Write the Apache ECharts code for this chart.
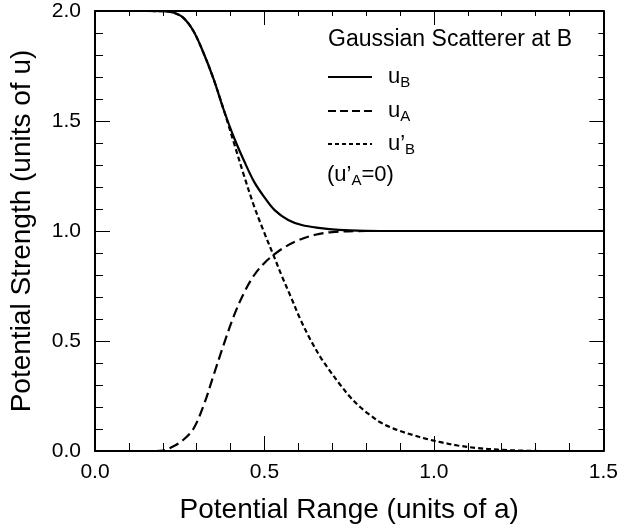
<!DOCTYPE html>
<html>
<head>
<meta charset="utf-8">
<script src="https://cdn.jsdelivr.net/npm/echarts@6/dist/echarts.min.js"></script>
<style>
  html, body { margin: 0; padding: 0; background: #fff; }
  #chart { width: 621px; height: 531px; }
</style>
</head>
<body>
<div id="chart"></div>
<script>
// Potential strength of a Gaussian scatterer at site B
const uBx = [0, 0.15, 0.20, 0.23, 0.26, 0.29, 0.32, 0.35, 0.38, 0.41, 0.44, 0.47, 0.50, 0.53, 0.57, 0.61, 0.66, 0.72, 0.80, 0.90, 1.5];
const uBy = [2.0, 2.0, 1.999, 1.993, 1.97, 1.91, 1.81, 1.69, 1.55, 1.425, 1.318, 1.222, 1.153, 1.095, 1.05, 1.027, 1.014, 1.005, 1.001, 1.0, 1.0];

const uAx = [0, 0.18, 0.20, 0.23, 0.26, 0.29, 0.32, 0.35, 0.38, 0.41, 0.44, 0.47, 0.50, 0.53, 0.56, 0.60, 0.65, 0.70, 0.80, 1.5];
const uAy = [0, 0, 0.002, 0.02, 0.05, 0.10, 0.205, 0.345, 0.485, 0.615, 0.72, 0.80, 0.855, 0.895, 0.927, 0.958, 0.983, 0.995, 1.0, 1.0];

const uBpx = [0, 0.15, 0.20, 0.23, 0.26, 0.29, 0.32, 0.35, 0.38, 0.41, 0.44, 0.47, 0.50, 0.53, 0.55, 0.578, 0.607, 0.636, 0.665, 0.695, 0.724, 0.753, 0.782, 0.811, 0.84, 0.87, 0.90, 0.937, 0.978, 1.02, 1.07, 1.13, 1.19, 1.25, 1.32, 1.5];
const uBpy = [2.0, 2.0, 1.999, 1.993, 1.97, 1.91, 1.81, 1.69, 1.55, 1.40, 1.25, 1.11, 0.99, 0.877, 0.80, 0.70, 0.595, 0.505, 0.427, 0.36, 0.30, 0.245, 0.20, 0.164, 0.132, 0.109, 0.091, 0.073, 0.055, 0.040, 0.025, 0.013, 0.006, 0.002, 0.0, 0.0];

const xTicks = [0.0, 0.5, 1.0, 1.5];
const yTicks = [0.0, 0.5, 1.0, 1.5, 2.0];

const legendTitle = 'Gaussian Scatterer at B';
const legendNote = '{m|(u’}{s|A}{m|=0)}';

const pairs = (xs, ys) => xs.map((x, i) => [x, ys[i]]);

const FONT = 'Liberation Sans, Arial, Helvetica, sans-serif';
const rich = {
  m: { fontFamily: FONT, fontSize: 22, color: '#000', lineHeight: 28 },
  s: { fontFamily: FONT, fontSize: 15, color: '#000', lineHeight: 28, padding: [11, 0, 0, 0] }
};

// key entries: label, dash pattern of the sample line, row centre
const keyRows = [
  { label: '{m|u}{s|B}', dash: null, y: 77 },
  { label: '{m|u}{s|A}', dash: [8, 4], y: 111 },
  { label: '{m|u’}{s|B}', dash: [4, 3], y: 144 }
];

const keyGraphics = [];
keyRows.forEach(r => {
  keyGraphics.push({
    type: 'line', silent: true, z: 10,
    shape: { x1: 328, y1: r.y, x2: 372, y2: r.y },
    style: { stroke: '#000', lineWidth: 2, lineDash: r.dash || null }
  });
  keyGraphics.push({
    type: 'text', silent: true, z: 10, x: 388, y: r.y,
    style: { text: r.label, rich: rich, verticalAlign: 'middle', align: 'left' }
  });
});
keyGraphics.push({
  type: 'text', silent: true, z: 10, x: 328, y: 40,
  style: { text: legendTitle, fontFamily: FONT, fontSize: 23, fill: '#000', verticalAlign: 'middle', align: 'left' }
});
keyGraphics.push({
  type: 'text', silent: true, z: 10, x: 327, y: 175,
  style: { text: legendNote, rich: rich, verticalAlign: 'middle', align: 'left' }
});

const axisCommon = {
  type: 'value',
  axisLine: { show: true, onZero: false, lineStyle: { color: '#000', width: 2 } },
  splitLine: { show: false },
  minorSplitLine: { show: false }
};

const chart = echarts.init(document.getElementById('chart'), null, { renderer: 'canvas' });
chart.setOption({
  animation: false,
  backgroundColor: '#fff',
  grid: { left: 92, right: 15, top: 11, bottom: 80 },
  graphic: keyGraphics,
  xAxis: [
    Object.assign({}, axisCommon, {
      position: 'bottom', min: 0, max: 1.5, interval: 0.5,
      name: 'Potential Range (units of a)', nameLocation: 'middle', nameGap: 45,
      nameTextStyle: { fontFamily: FONT, fontSize: 28, color: '#000' },
      axisTick: { show: true, inside: true, length: 15, lineStyle: { color: '#000', width: 1 } },
      minorTick: { show: true, splitNumber: 5, length: 8, lineStyle: { color: '#000', width: 1 } },
      axisLabel: { fontFamily: FONT, fontSize: 21, color: '#000', margin: 11,
        formatter: v => xTicks.includes(v) ? v.toFixed(1) : '' }
    }),
    Object.assign({}, axisCommon, {
      position: 'top', min: 0, max: 1.5, interval: 0.5,
      axisTick: { show: true, inside: true, length: 14, lineStyle: { color: '#000', width: 1 } },
      minorTick: { show: true, splitNumber: 5, length: 5, lineStyle: { color: '#000', width: 1 } },
      axisLabel: { show: false }
    })
  ],
  yAxis: [
    Object.assign({}, axisCommon, {
      position: 'left', min: 0, max: 2.0, interval: 0.5,
      name: 'Potential Strength (units of u)', nameLocation: 'middle', nameGap: 59,
      nameTextStyle: { fontFamily: FONT, fontSize: 28, color: '#000' },
      axisTick: { show: true, inside: true, length: 15, lineStyle: { color: '#000', width: 1 } },
      minorTick: { show: true, splitNumber: 5, length: 8, lineStyle: { color: '#000', width: 1 } },
      axisLabel: { fontFamily: FONT, fontSize: 21, color: '#000', margin: 14,
        formatter: v => yTicks.includes(v) ? v.toFixed(1) : '' }
    }),
    Object.assign({}, axisCommon, {
      position: 'right', min: 0, max: 2.0, interval: 0.5,
      axisTick: { show: true, inside: true, length: 14, lineStyle: { color: '#000', width: 1 } },
      minorTick: { show: true, splitNumber: 5, length: 5, lineStyle: { color: '#000', width: 1 } },
      axisLabel: { show: false }
    })
  ],
  series: [
    {
      name: 'uB', type: 'line', xAxisIndex: 0, yAxisIndex: 0,
      data: pairs(uBx, uBy), smooth: 0.35, showSymbol: false, symbol: 'none',
      lineStyle: { color: '#000', width: 2.2, type: 'solid' }, z: 3
    },
    {
      name: 'uA', type: 'line', xAxisIndex: 0, yAxisIndex: 0,
      data: pairs(uAx, uAy), smooth: 0.35, showSymbol: false, symbol: 'none',
      lineStyle: { color: '#000', width: 2.2, type: [10, 5] }, z: 2
    },
    {
      name: "u'B", type: 'line', xAxisIndex: 0, yAxisIndex: 0,
      data: pairs(uBpx, uBpy), smooth: 0.35, showSymbol: false, symbol: 'none',
      lineStyle: { color: '#000', width: 2.2, type: [5, 3] }, z: 2
    }
  ]
});
</script>
</body>
</html>
